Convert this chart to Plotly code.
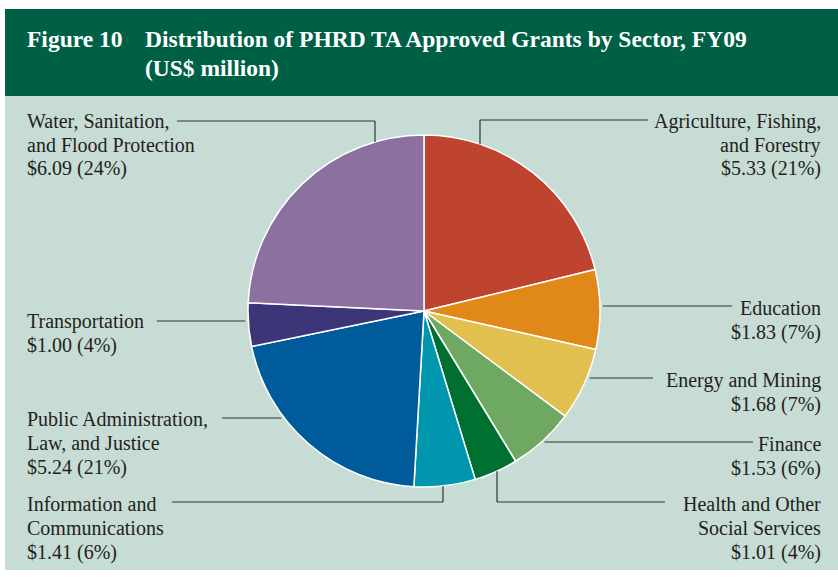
import math
import plotly.graph_objects as go

# ---------------- data ----------------
sectors = [
    "Agriculture, Fishing, and Forestry",
    "Education",
    "Energy and Mining",
    "Finance",
    "Health and Other Social Services",
    "Information and Communications",
    "Public Administration, Law, and Justice",
    "Transportation",
    "Water, Sanitation, and Flood Protection",
]
values = [5.33, 1.83, 1.68, 1.53, 1.01, 1.41, 5.24, 1.00, 6.09]
label_lines = [
    ["Agriculture, Fishing,", "and Forestry"],
    ["Education"],
    ["Energy and Mining"],
    ["Finance"],
    ["Health and Other", "Social Services"],
    ["Information and", "Communications"],
    ["Public Administration,", "Law, and Justice"],
    ["Transportation"],
    ["Water, Sanitation,", "and Flood Protection"],
]
colors = ["#bf4430", "#e08818", "#e2c050", "#6fa862", "#007031",
          "#0096ad", "#005b9a", "#3c3578", "#8c70a0"]
title_left = "Figure 10"
title_lines = ["Distribution of PHRD TA Approved Grants by Sector, FY09", "(US$ million)"]

# ---------------- layout constants (pixels) ----------------
W, H = 838, 577
CX, CY, R = 424, 311, 176
FONT = "Liberation Serif"
FS = 20
LSP = 24

# label placement: side, text x, first line y, leader kind, params
placement = [
    ("right", 823, 120, "elbow", dict(vx=480, hy=120, end=648)),
    ("right", 823, 307, "flat", dict(hy=306, end=732)),
    ("right", 823, 379, "flat", dict(hy=378, end=653)),
    ("right", 823, 443, "flat", dict(hy=442, end=753)),
    ("right", 823, 503, "elbow", dict(vx=497, hy=502, end=665)),
    ("left", 25, 503, "elbow", dict(vx=443, hy=502, end=172)),
    ("left", 25, 418, "flat", dict(hy=418, end=222)),
    ("left", 25, 320, "flat", dict(hy=321, end=157)),
    ("left", 25, 120, "elbow", dict(vx=375, hy=121, end=177)),
]


def px(x):
    return x / W


def py(y):
    return 1 - y / H


total = sum(values)

fig = go.Figure()
fig.add_trace(go.Pie(
    labels=sectors,
    values=values,
    sort=False,
    direction="clockwise",
    rotation=0,
    marker=dict(colors=colors, line=dict(color="white", width=1.5)),
    textinfo="none",
    hoverinfo="label+value+percent",
    showlegend=False,
    domain=dict(x=[px(CX - R), px(CX + R)], y=[py(CY + R), py(CY - R)]),
))

shapes = [
    dict(type="rect", xref="paper", yref="paper", x0=px(5), x1=1, y0=py(9), y1=py(96),
         fillcolor="#006046", line=dict(width=0), layer="below"),
    dict(type="rect", xref="paper", yref="paper", x0=px(5), x1=1, y0=py(96), y1=py(570),
         fillcolor="#c7dcd4", line=dict(width=0), layer="below"),
]
annotations = []

line_style = dict(color="#333333", width=1.2)


def add_text(x, y, text, anchor, size, color, bold=False):
    annotations.append(dict(
        x=px(x), y=py(y), xref="paper", yref="paper",
        text=f"<b>{text}</b>" if bold else text, showarrow=False,
        xanchor=anchor, yanchor="middle", align=anchor,
        font=dict(family=FONT, size=size, color=color),
    ))


for lines, v, (side, tx, ty, kind, p) in zip(label_lines, values, placement):
    pct = round(100 * v / total)
    all_lines = lines + [f"${v:.2f} ({pct}%)"]
    for i, ln in enumerate(all_lines):
        add_text(tx, ty + 1 + i * LSP, ln, side, FS, "#231f20")
    sgn = 1 if side == "right" else -1
    if kind == "flat":
        dy = p["hy"] - CY
        xs = CX + sgn * (math.sqrt(R * R - dy * dy) + 3)
        shapes.append(dict(type="line", xref="paper", yref="paper",
                           x0=px(xs), y0=py(p["hy"]), x1=px(p["end"]), y1=py(p["hy"]),
                           line=line_style))
    else:
        dx = p["vx"] - CX
        vs = 1 if p["hy"] > CY else -1
        ys = CY + vs * math.sqrt(R * R - dx * dx)
        shapes.append(dict(type="line", xref="paper", yref="paper",
                           x0=px(p["vx"]), y0=py(ys), x1=px(p["vx"]), y1=py(p["hy"]),
                           line=line_style))
        shapes.append(dict(type="line", xref="paper", yref="paper",
                           x0=px(p["vx"]), y0=py(p["hy"]), x1=px(p["end"]), y1=py(p["hy"]),
                           line=line_style))

# title
add_text(25, 39, title_left, "left", 23.5, "white", bold=True)
for i, ln in enumerate(title_lines):
    add_text(143, 39 + i * 29, ln, "left", 23.5, "white", bold=True)

fig.update_layout(
    width=W, height=H,
    margin=dict(l=0, r=0, t=0, b=0),
    paper_bgcolor="white",
    shapes=shapes,
    annotations=annotations,
)

fig.write_html("out.html", config={"displayModeBar": False},
               post_script="document.body.style.margin='0';")
